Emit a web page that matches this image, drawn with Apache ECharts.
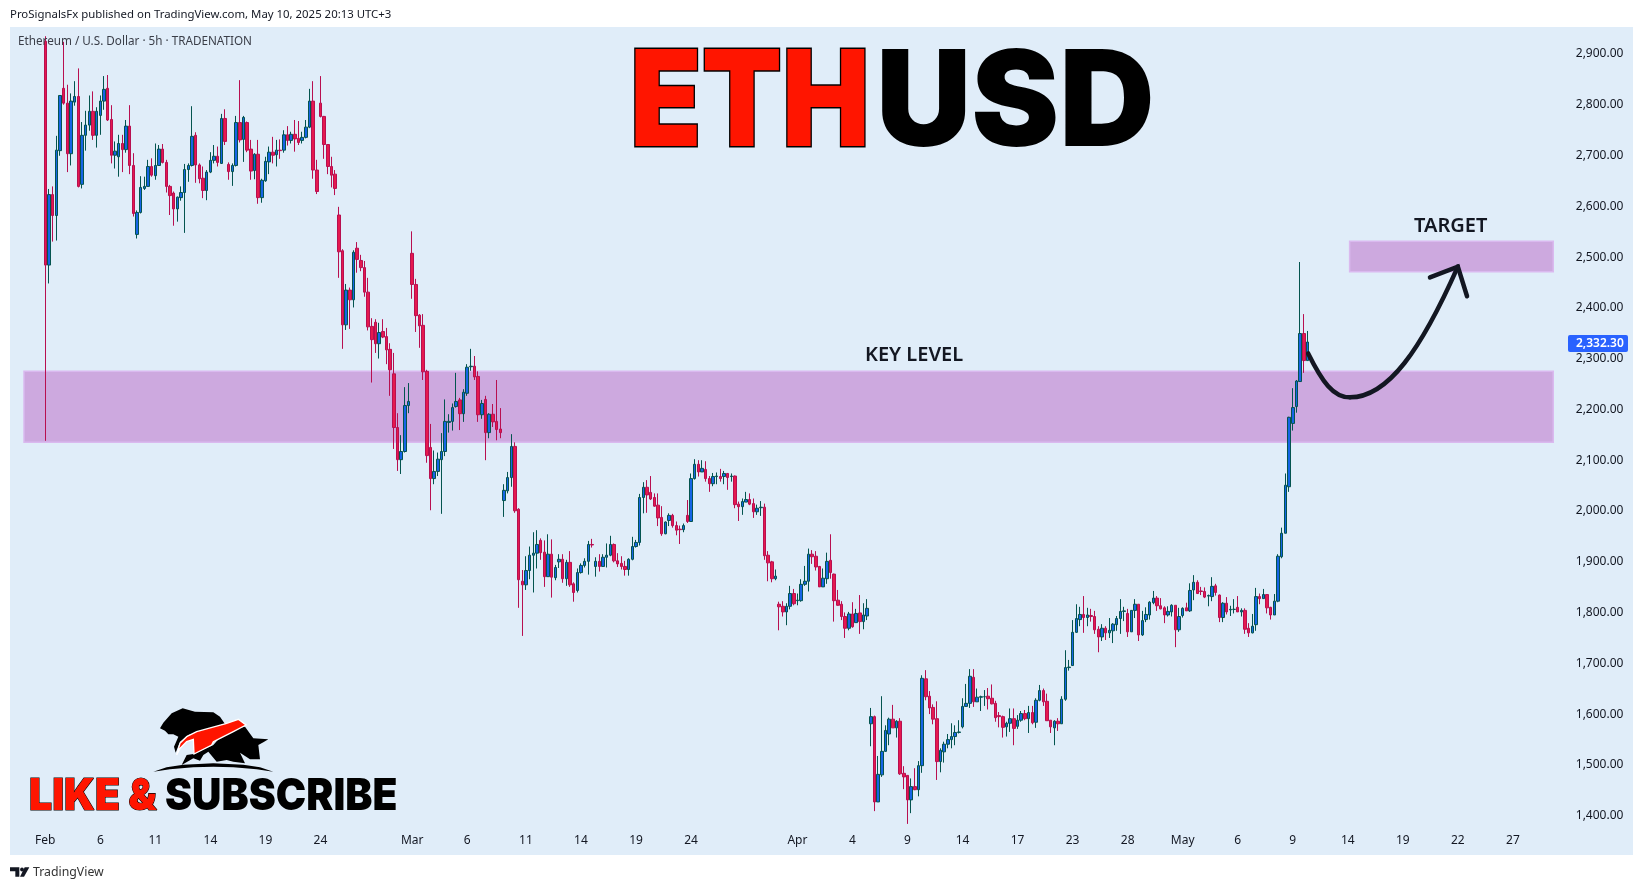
<!DOCTYPE html>
<html><head><meta charset="utf-8">
<style>html,body{margin:0;padding:0;background:#fff}#c{width:1643px;height:890px}</style>
<script src="https://cdn.jsdelivr.net/npm/echarts@6/dist/echarts.min.js"></script>
</head><body><div id="c"></div>
<script>
const opens=[2921,2483,2621,2580,2707,2829,2800,2701,2802,2813,
2641,2737,2757,2784,2737,2776,2804,2829,2768,2698,
2695,2721,2709,2755,2678,2543,2586,2633,2637,2676,
2658,2678,2710,2684,2637,2624,2593,2615,2625,2670,
2678,2737,2679,2653,2629,2665,2688,2696,2682,2770,
2680,2666,2678,2762,2729,2762,2710,2668,2700,2615,
2648,2685,2704,2699,2708,2708,2738,2727,2739,2731,
2727,2733,2753,2804,2669,2800,2774,2719,2676,2661,
2581,2511,2366,2434,2415,2516,2492,2478,2430,2363,
2371,2329,2353,2343,2318,2270,2165,2102,2118,2208,
2506,2445,2385,2365,2275,2126,2065,2079,2102,2118,
2175,2177,2206,2219,2192,2232,2284,2285,2265,2190,
2220,2155,2191,2177,2162,2022,2041,2067,2128,2005,
1864,1857,1885,1915,1919,1944,1921,1873,1917,1871,
1902,1907,1869,1901,1859,1846,1881,1895,1903,1936,
1893,1903,1893,1911,1915,1936,1904,1899,1893,1887,
1907,1932,1940,2028,2048,2038,2028,2013,1989,1957,
1983,1993,1973,1966,1965,1993,1981,2065,2093,2078,
2083,2065,2055,2069,2069,2069,2075,2069,2070,2015,
2010,2019,2024,2016,2000,2008,2009,1915,1902,1869,
1819,1815,1804,1815,1840,1826,1826,1858,1864,1917,
1913,1893,1853,1869,1905,1878,1827,1819,1795,1772,
1800,1783,1802,1785,1796,1585,1599,1432,1485,1531,
1565,1594,1577,1590,1488,1484,1436,1462,1456,1503,
1673,1639,1617,1595,1511,1530,1545,1554,1560,1568,
1579,1619,1625,1676,1628,1637,1638,1639,1635,1625,
1601,1599,1579,1586,1595,1580,1592,1605,1595,1607,
1588,1631,1650,1629,1592,1577,1590,1585,1633,1695,
1699,1764,1789,1799,1793,1797,1795,1770,1755,1772,
1763,1767,1779,1791,1805,1801,1765,1807,1819,1759,
1789,1798,1822,1831,1816,1812,1798,1804,1817,1769,
1797,1812,1806,1847,1862,1845,1844,1835,1834,1855,
1837,1793,1821,1808,1809,1813,1804,1807,1772,1763,
1779,1834,1830,1838,1813,1798,1825,1912,1958,2049,
2173,2206,2255,2349,2296];
const closes=[2483,2621,2580,2708,2815,2800,2701,2804,2813,2637,
2737,2757,2784,2737,2784,2804,2827,2767,2698,2706,
2721,2709,2755,2678,2584,2586,2635,2637,2676,2659,
2678,2710,2684,2637,2619,2593,2616,2625,2670,2678,
2735,2679,2652,2629,2665,2688,2696,2684,2770,2725,
2666,2678,2762,2728,2772,2708,2667,2700,2615,2649,
2686,2704,2698,2708,2707,2738,2727,2739,2730,2723,
2733,2753,2804,2669,2627,2774,2719,2676,2659,2633,
2509,2366,2434,2415,2508,2494,2478,2430,2362,2337,
2329,2351,2342,2317,2278,2165,2102,2118,2208,2216,
2445,2384,2364,2274,2110,2065,2079,2103,2118,2177,
2177,2204,2216,2192,2234,2283,2285,2264,2190,2212,
2155,2191,2176,2161,2155,2042,2067,2128,2002,1867,
1857,1885,1915,1919,1936,1920,1873,1917,1872,1891,
1907,1869,1901,1857,1842,1881,1895,1903,1936,1935,
1903,1893,1911,1915,1936,1904,1898,1893,1887,1907,
1932,1940,2028,2048,2033,2025,2011,1988,1957,1980,
1993,1973,1964,1965,1973,1981,2065,2093,2078,2085,
2065,2055,2069,2070,2065,2075,2067,2070,2014,2010,
2020,2024,2015,2000,2007,2009,1914,1900,1869,1874,
1814,1804,1815,1840,1820,1827,1858,1864,1917,1912,
1892,1853,1870,1903,1881,1826,1817,1795,1772,1800,
1775,1801,1785,1798,1811,1599,1432,1486,1531,1572,
1594,1577,1590,1487,1481,1436,1462,1456,1503,1674,
1638,1616,1594,1511,1533,1545,1554,1560,1568,1569,
1619,1625,1678,1628,1637,1638,1638,1634,1624,1597,
1599,1578,1586,1595,1576,1592,1605,1595,1607,1587,
1631,1650,1628,1591,1579,1590,1585,1633,1695,1696,
1764,1791,1799,1793,1798,1795,1769,1755,1772,1763,
1768,1780,1791,1805,1806,1765,1807,1819,1759,1787,
1799,1823,1831,1816,1810,1798,1805,1817,1769,1795,
1811,1806,1846,1862,1840,1844,1833,1836,1854,1842,
1793,1821,1804,1809,1809,1804,1807,1770,1763,1776,
1834,1830,1838,1812,1798,1825,1913,1958,2052,2185,
2204,2256,2349,2296,2332.3];
const highs=[2931,2632,2637,2736,2815,2920,2836,2819,2843,2868,
2763,2785,2815,2823,2792,2815,2853,2855,2796,2725,
2738,2738,2767,2796,2702,2590,2657,2656,2689,2692,
2721,2718,2720,2689,2640,2627,2617,2637,2681,2682,
2794,2743,2682,2676,2669,2704,2718,2715,2779,2788,
2684,2682,2775,2845,2775,2764,2728,2702,2728,2652,
2695,2715,2734,2728,2729,2747,2755,2744,2767,2765,
2744,2767,2828,2843,2689,2853,2775,2719,2695,2669,
2597,2514,2446,2439,2512,2528,2503,2491,2458,2379,
2377,2370,2377,2360,2330,2311,2193,2150,2244,2252,
2549,2456,2387,2387,2278,2172,2120,2116,2154,2220,
2191,2212,2272,2223,2240,2289,2319,2305,2275,2219,
2227,2193,2211,2258,2203,2054,2078,2152,2136,2007,
1886,1913,1932,1960,1964,1948,1944,1956,1946,1896,
1917,1917,1906,1923,1862,1889,1899,1909,1943,1947,
1911,1917,1917,1938,1953,1938,1919,1913,1904,1909,
1951,1945,2035,2058,2062,2070,2036,2036,2011,1981,
1997,1996,1981,1973,1977,2023,2075,2103,2101,2101,
2099,2070,2076,2077,2084,2080,2076,2075,2071,2020,
2026,2039,2036,2026,2014,2021,2016,1923,1904,1887,
1824,1825,1821,1855,1849,1840,1868,1894,1928,1925,
1923,1894,1889,1920,1956,1879,1847,1825,1803,1804,
1823,1810,1837,1821,1829,1616,1601,1522,1639,1582,
1597,1622,1592,1596,1502,1484,1478,1498,1512,1680,
1690,1649,1623,1629,1537,1550,1565,1586,1582,1592,
1635,1663,1692,1692,1654,1640,1651,1655,1662,1630,
1608,1601,1589,1615,1615,1602,1610,1612,1620,1620,
1635,1661,1654,1644,1592,1592,1596,1639,1729,1710,
1788,1819,1814,1835,1812,1810,1806,1776,1780,1776,
1792,1782,1796,1829,1814,1810,1807,1829,1819,1806,
1813,1825,1845,1835,1831,1815,1815,1819,1817,1812,
1813,1822,1860,1876,1866,1853,1852,1838,1872,1859,
1838,1823,1833,1816,1829,1835,1811,1811,1782,1800,
1851,1840,1849,1838,1814,1839,1917,1969,2075,2186,
2242,2258,2489,2387,2354];
const lows=[2139,2447,2529,2531,2697,2797,2665,2678,2795,2635,
2633,2707,2746,2728,2713,2738,2787,2765,2682,2672,
2656,2665,2703,2661,2578,2535,2584,2630,2637,2656,
2650,2677,2682,2625,2581,2560,2568,2609,2546,2646,
2676,2644,2643,2614,2610,2663,2682,2676,2681,2718,
2650,2638,2676,2723,2685,2704,2650,2651,2603,2605,
2646,2661,2682,2676,2691,2703,2717,2721,2705,2718,
2721,2731,2751,2652,2622,2772,2691,2661,2635,2620,
2458,2319,2356,2358,2400,2468,2471,2421,2355,2253,
2311,2300,2340,2289,2227,2123,2080,2074,2116,2193,
2417,2352,2321,2258,2096,2003,2054,2070,1996,2109,
2155,2159,2204,2160,2176,2227,2276,2258,2176,2182,
2101,2144,2166,2140,2144,1990,2036,2049,1998,1812,
1757,1847,1868,1842,1889,1906,1853,1873,1832,1866,
1890,1861,1855,1853,1824,1842,1879,1891,1877,1930,
1873,1883,1893,1891,1913,1901,1892,1887,1875,1875,
1905,1930,1934,1997,1998,2023,2010,1972,1953,1956,
1972,1969,1954,1937,1960,1978,1981,2063,2069,2078,
2059,2039,2050,2054,2059,2054,2043,2059,2007,1982,
1994,2019,2013,1988,1994,1992,1906,1864,1862,1866,
1768,1795,1778,1809,1817,1817,1824,1855,1844,1898,
1885,1853,1853,1859,1869,1785,1816,1788,1753,1768,
1773,1783,1761,1770,1788,1541,1414,1432,1481,1530,
1543,1577,1558,1485,1457,1389,1410,1455,1443,1489,
1631,1604,1584,1475,1490,1509,1537,1537,1543,1566,
1576,1618,1616,1618,1628,1610,1620,1613,1623,1589,
1578,1558,1560,1569,1543,1575,1589,1592,1567,1584,
1577,1629,1620,1591,1567,1543,1571,1585,1630,1689,
1699,1763,1776,1763,1776,1785,1761,1725,1747,1749,
1753,1743,1767,1761,1786,1755,1765,1792,1747,1757,
1784,1789,1819,1806,1809,1782,1795,1795,1735,1765,
1793,1806,1804,1827,1839,1837,1831,1815,1825,1836,
1784,1784,1799,1796,1801,1804,1795,1761,1755,1762,
1767,1819,1830,1801,1789,1798,1823,1909,1958,2039,
2159,2194,2255,2272,2296];

const xTickLabels=['Feb','6','11','14','19','24','Mar','6','11','14','19','24','Apr','4','9','14','17','23','28','May','6','9','14','19','22','27'];
const xTickBars=[0,15,30,45,60,75,100,115,131,146,161,176,205,220,235,250,265,280,295,310,325,340,355,370,385,400];
const yTickValues=[1400,1500,1600,1700,1800,1900,2000,2100,2200,2300,2400,2500,2600,2700,2800,2900];
const lastPrice=2332.30;
const keyZone=[-5.8,411,2275,2136];
const targetZone=[355.5,411,2529.5,2470];
const curveBars=[344.2,348,351,355.6,366,375,385];
const curvePrices=[2310,2255,2224,2224,2224,2318,2480];
const headBars=[377.4,385,387.5];
const headPrices=[2459,2480,2422];

// The readings above were taken against a first estimate of the price ruler; this re-reads them on the measured ruler.
const onRuler=(p)=>1.0059*p-13.35;
const LEAD=9, TOTAL=425, STEP=3.669;
const categories=Array.from({length:TOTAL},(_,i)=>String(i-LEAD));
const labelAt={};xTickBars.forEach((b,i)=>labelAt[b+LEAD]=xTickLabels[i]);
const candleData=opens.map((o,i)=>[i+LEAD,onRuler(o),onRuler(closes[i]),onRuler(lows[i]),onRuler(highs[i])]);
const UI='"Noto Sans",sans-serif';
const txt=(x,y,text,font,fill,extra,scaleX)=>({type:'text',z:100,x,y,scaleX:scaleX||1,silent:true,style:Object.assign({text,font,fill,textAlign:'left',textVerticalAlign:'middle'},extra||{})});
const glow={shadowBlur:14,shadowColor:'rgba(255,255,255,0.95)'};
const bearPts=[[480,145],[490,128],[515,100],[548,85],[585,95],[640,97],[660,110],[675,132],[600,155],[565,165],[540,185],[527,218],[522,200],[535,170],[520,163],[505,163],[495,152]];
const bullPts=[[600,242],[580,235],[545,255],[560,225],[580,222],[640,195],[680,150],[735,140],[760,175],[805,178],[790,187],[775,195],[780,238],[750,238],[720,218],[735,250],[700,245],[680,240],[650,245],[625,215],[610,225]];
const arrowPts=[[530,225],[540,190],[560,170],[590,155],[680,130],[715,118],[738,135],[700,155],[660,175],[640,185],[635,195],[582,222],[580,178],[560,185],[540,205]];
const groundPts=[[460,275],[500,262],[550,254],[640,250],[730,254],[780,262],[820,275],[770,268],[700,262],[640,260],[580,262],[510,268]];
const logoT=[[30,562],[58,562],[58,590],[46,590],[46,574],[30,574]];
const logoV=[[88,562],[72,590],[60,590],[74,562]];
const logoEl=(pts,fill,stroke)=>({type:'polygon',z:100,x:0,y:680,scaleX:1/3,scaleY:1/3,silent:true,shape:{points:pts},style:{fill,stroke:stroke||null,lineWidth:stroke?4:0}});

const chart=echarts.init(document.getElementById('c'),null,{renderer:'canvas'});
chart.setOption({
 animation:false,
 backgroundColor:'#ffffff',
 grid:{left:10.44,top:27,width:TOTAL*STEP,height:828,containLabel:false},
 xAxis:[
  {type:'category',data:categories,boundaryGap:true,axisLine:{show:false},axisTick:{show:false},splitLine:{show:false},
   axisLabel:{inside:true,margin:8,color:'#131722',fontFamily:UI,fontSize:12,interval:(i)=>labelAt[i]!==undefined,formatter:(v,i)=>labelAt[i]||'',hideOverlap:false}},
  {type:'value',min:-LEAD-0.5,max:TOTAL-LEAD-0.5,show:false}
 ],
 yAxis:{type:'value',position:'right',min:1322.6,max:2953.1,axisLine:{show:false},axisTick:{show:false},splitLine:{show:false},
  axisLabel:{margin:6,color:'#131722',fontFamily:UI,fontSize:12,customValues:yTickValues,
   formatter:(v)=>v.toLocaleString('en-US',{minimumFractionDigits:2,maximumFractionDigits:2})}},
 series:[
  {type:'candlestick',name:'ETHUSD',z:3,barWidth:3,data:candleData,encode:{x:0,y:[1,2,3,4]},clip:true,
   itemStyle:{color:'#1565e6',color0:'#e5194f',borderColor:'#04544f',borderColor0:'#b80f50',borderWidth:1}},
  {type:'line',name:'zones',xAxisIndex:1,data:[],silent:true,
   markArea:{silent:true,z:1,itemStyle:{color:'#cda9df',borderColor:'#dab9ef',borderWidth:1.5},
    data:[[{xAxis:keyZone[0],yAxis:onRuler(keyZone[2])},{xAxis:keyZone[1],yAxis:onRuler(keyZone[3])}],
          [{xAxis:targetZone[0],yAxis:onRuler(targetZone[2])},{xAxis:targetZone[1],yAxis:onRuler(targetZone[3])}]]}},
  {type:'custom',name:'projection',xAxisIndex:1,yAxisIndex:0,z:6,silent:true,
   data:[[curveBars[0],onRuler(curvePrices[0])]],encode:{x:0,y:1},
   renderItem:(params,api)=>{
     const P=curveBars.map((b,i)=>api.coord([b,onRuler(curvePrices[i])]));
     const style={fill:null,stroke:'#131722',lineWidth:4.5,lineCap:'round'};
     const seg=(a)=>({type:'bezierCurve',shape:{x1:P[a][0],y1:P[a][1],cpx1:P[a+1][0],cpy1:P[a+1][1],cpx2:P[a+2][0],cpy2:P[a+2][1],x2:P[a+3][0],y2:P[a+3][1]},style});
     return {type:'group',children:[seg(0),seg(3)]};
   }},
  {type:'line',name:'arrowhead',xAxisIndex:1,z:6,symbol:'none',silent:true,
   data:headBars.map((b,i)=>[b,onRuler(headPrices[i])]),lineStyle:{color:'#131722',width:4.5,cap:'round',join:'miter'}}
 ],
 graphic:[
  {type:'rect',z:0,silent:true,shape:{x:10,y:27,width:1623,height:828},style:{fill:'#e0edf9'}},
  txt(10,15,'ProSignalsFx published on TradingView.com, May 10, 2025 20:13 UTC+3','11.4px '+UI,'#131722'),
  txt(18,42,'Ethereum / U.S. Dollar · 5h · TRADENATION','11.7px '+UI,'#3a3e48'),
  txt(630,106,'ETH','900 133px Inter','#ff1500',Object.assign({stroke:'#000',lineWidth:3},glow),0.88),
  txt(876,106,'USD','900 133px Inter','#000',glow,0.993),
  txt(865,355,'KEY LEVEL','600 20px "Noto Sans"','#131722'),
  txt(1414,226,'TARGET','600 20px "Noto Sans"','#131722'),
  {type:'rect',z:99,silent:true,shape:{x:1568,y:335,width:60,height:17,r:2},style:{fill:'#2962ff'}},
  txt(1576,343.5,lastPrice.toLocaleString('en-US',{minimumFractionDigits:2}),'600 12px '+UI,'#ffffff'),
  logoEl(bearPts,'#000'),logoEl(bullPts,'#000'),logoEl(arrowPts,'#ff1500','#ffffff'),logoEl(groundPts,'#000'),
  txt(29,797,'LIKE & ','900 44px Inter','#ff1500',Object.assign({stroke:'#000',lineWidth:1.2},glow),0.93),
  txt(165,797,'SUBSCRIBE','900 44px Inter','#000',glow,0.925),
  logoEl(logoT,'#131722'),logoEl(logoV,'#131722'),
  {type:'circle',z:100,silent:true,shape:{cx:22,cy:869.5,r:1.9},style:{fill:'#131722'}},
  txt(33,872,'TradingView','12.3px '+UI,'#333')
 ]
});
</script></body></html>
